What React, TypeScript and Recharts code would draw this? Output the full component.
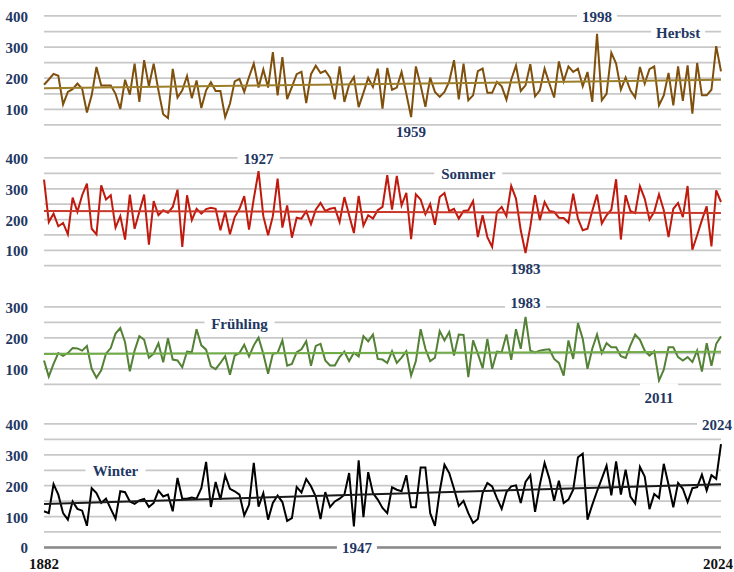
import React from "react";
import { LineChart, Line, XAxis, YAxis, CartesianGrid, ReferenceLine, ReferenceDot } from "recharts";

const years = Array.from({ length: 143 }, (_, i) => 1882 + i);

const herbstValues = [
  179, 196, 214, 208, 116, 156, 165, 183, 166, 90, 145, 236, 177, 177, 177, 150, 101, 195, 147, 247,
  124, 258, 174, 247, 161, 84, 72, 230, 138, 161, 207, 136, 193, 104, 161, 187, 159, 159, 75, 118,
  190, 198, 156, 204, 247, 170, 228, 170, 284, 145, 268, 133, 172, 213, 221, 120, 213, 240, 217, 224,
  202, 132, 238, 124, 179, 204, 107, 153, 201, 172, 231, 102, 233, 163, 170, 220, 150, 75, 238, 177,
  108, 202, 156, 140, 156, 190, 258, 132, 247, 129, 145, 223, 231, 153, 153, 188, 174, 131, 195, 241,
  159, 177, 245, 142, 161, 231, 183, 138, 254, 190, 238, 220, 231, 174, 220, 124, 343, 129, 150, 282,
  247, 163, 202, 161, 138, 236, 183, 229, 238, 113, 145, 217, 113, 238, 127, 241, 86, 249, 145, 145,
  163, 303, 222,
];

const sommerValues = [
  330, 192, 219, 178, 189, 152, 271, 225, 279, 317, 170, 152, 311, 265, 279, 174, 211, 135, 281, 170,
  225, 281, 118, 260, 214, 230, 222, 241, 297, 111, 279, 198, 235, 219, 234, 238, 235, 165, 225, 152,
  208, 235, 276, 167, 268, 357, 211, 149, 211, 333, 174, 246, 141, 206, 203, 227, 185, 232, 254, 228,
  235, 238, 192, 273, 214, 156, 277, 180, 214, 203, 230, 241, 344, 232, 342, 246, 287, 136, 282, 265,
  217, 250, 183, 273, 286, 227, 235, 203, 228, 230, 260, 143, 214, 143, 111, 225, 241, 211, 309, 268,
  165, 91, 176, 279, 198, 257, 228, 225, 206, 205, 190, 284, 203, 165, 170, 228, 281, 187, 214, 232,
  331, 135, 279, 228, 221, 308, 268, 200, 225, 282, 230, 143, 235, 254, 208, 309, 102, 149, 198, 243,
  113, 295, 257,
];

const fruehlingValues = [
  127, 75, 116, 151, 142, 151, 167, 166, 159, 174, 100, 71, 95, 149, 167, 214, 232, 186, 92, 159,
  206, 194, 136, 149, 183, 121, 199, 130, 127, 105, 156, 154, 228, 176, 162, 108, 99, 119, 141, 81,
  143, 151, 178, 140, 176, 201, 149, 84, 149, 152, 192, 110, 116, 154, 163, 189, 110, 174, 181, 127,
  111, 111, 138, 156, 125, 152, 140, 206, 189, 211, 132, 130, 119, 157, 119, 136, 157, 78, 125, 228,
  165, 125, 136, 222, 192, 219, 143, 211, 210, 73, 192, 149, 102, 197, 100, 156, 154, 211, 129, 228,
  165, 268, 159, 153, 159, 162, 163, 132, 119, 78, 192, 132, 248, 197, 100, 165, 211, 151, 183, 170,
  170, 141, 135, 176, 211, 194, 159, 143, 157, 62, 97, 170, 170, 138, 127, 138, 122, 159, 91, 183,
  110, 181, 205,
];

const winterValues = [
  117, 111, 205, 171, 111, 90, 149, 125, 119, 70, 192, 176, 144, 158, 125, 93, 182, 179, 149, 141,
  152, 157, 131, 144, 184, 165, 171, 117, 225, 158, 158, 162, 158, 192, 277, 131, 212, 155, 234, 190,
  182, 171, 104, 138, 274, 132, 176, 90, 144, 168, 147, 86, 95, 196, 178, 222, 198, 165, 92, 179,
  131, 149, 158, 171, 241, 68, 282, 98, 244, 176, 155, 128, 111, 195, 187, 182, 234, 130, 130, 259,
  259, 111, 70, 182, 268, 241, 190, 134, 151, 111, 79, 92, 176, 209, 198, 160, 125, 179, 198, 201,
  144, 212, 234, 115, 203, 274, 223, 151, 216, 144, 155, 187, 292, 304, 90, 138, 182, 223, 265, 169,
  279, 171, 252, 165, 142, 261, 230, 124, 173, 160, 271, 203, 130, 209, 190, 147, 192, 195, 236, 184,
  234, 222, 335,
];

// trend line end values (1882, 2024)
const herbstTrend = [168, 195];
const sommerTrend = [228, 221];
const fruehlingTrend = [148, 155];
const winterTrend = [141, 205];

const xTicks = [1882, 2024];

const herbstNotes = [
  { text: "1998", x: 1998, y: 400, boxW: 40 },
  { text: "Herbst", x: 2015, y: 350, boxW: 54 },
  { text: "1959", x: 1959, y: 29, boxW: 0 },
];
const sommerNotes = [
  { text: "1927", x: 1927, y: 400, boxW: 42 },
  { text: "Sommer", x: 1971, y: 350, boxW: 68 },
  { text: "1983", x: 1983, y: 41, boxW: 0 },
];
const fruehlingNotes = [
  { text: "1983", x: 1983, y: 316, boxW: 41, boxH: 20 },
  { text: "Frühling", x: 1923, y: 248, boxW: 70 },
  { text: "2011", x: 2011, y: 8, boxW: 38, boxH: 28 },
];
const winterNotes = [
  { text: "Winter", x: 1897, y: 250, boxW: 60 },
  { text: "1947", x: 1947, y: 0, boxW: 40, dx: 3 },
  { text: "2024", x: 2024, y: 400, boxW: 40, dx: -4 },
];

const NAVY = "#1f3864";
const FONT = '"Liberation Serif", "Times New Roman", serif';
const PAD = 24;
const X_AXIS_H = 30;

interface Note {
  text: string;
  x: number;
  y: number;
  boxW: number;
  boxH?: number;
  dx?: number;
}

function NoteLabel(props: any) {
  const { viewBox, note } = props;
  if (!viewBox) return null;
  const n: Note = note;
  const cx = viewBox.x + (viewBox.width ?? 0) / 2 + (n.dx ?? 0);
  const cy = viewBox.y + (viewBox.height ?? 0) / 2;
  const h = n.boxH ?? 18;
  return (
    <g>
      {n.boxW > 0 && <rect x={cx - n.boxW / 2} y={cy - h / 2} width={n.boxW} height={h} fill="#ffffff" />}
      <text
        x={cx}
        y={cy + 1}
        textAnchor="middle"
        dominantBaseline="central"
        fontFamily={FONT}
        fontWeight="bold"
        fontSize={15}
        fill={NAVY}
      >
        {n.text}
      </text>
    </g>
  );
}

function makeYTick(labels: number[]) {
  return (props: any) => {
    const { y, payload } = props;
    if (!labels.includes(payload.value)) return <g />;
    return (
      <text
        x={28}
        y={y + 1}
        textAnchor="end"
        dominantBaseline="central"
        fontFamily={FONT}
        fontWeight="bold"
        fontSize={15}
        fill={NAVY}
      >
        {payload.value}
      </text>
    );
  };
}

function XTick(props: any) {
  const { x, y, payload } = props;
  // last year label sits flush against the right edge
  const isLast = payload.value === xTicks[xTicks.length - 1];
  return (
    <text
      x={isLast ? x + 12 : x}
      y={y + 17}
      textAnchor={isLast ? "end" : "middle"}
      dominantBaseline="central"
      fontFamily={FONT}
      fontWeight="bold"
      fontSize={15}
      fill="#111111"
    >
      {payload.value}
    </text>
  );
}

interface PanelProps {
  values: number[];
  trend: number[];
  color: string;
  trendColor: string;
  domain: [number, number];
  gridTicks: number[];
  labelTicks: number[];
  plotTop: number;
  plotHeight: number;
  notes: Note[];
  showXAxis?: boolean;
}

function SeasonPanel({
  values,
  trend,
  color,
  trendColor,
  domain,
  gridTicks,
  labelTicks,
  plotTop,
  plotHeight,
  notes,
  showXAxis,
}: PanelProps) {
  const data = years.map((year, i) => ({ year, value: values[i] }));
  const height = PAD + plotHeight + (showXAxis ? X_AXIS_H : PAD);
  return (
    <div style={{ position: "absolute", left: 0, top: plotTop - PAD }}>
      <LineChart
        width={734}
        height={height}
        data={data}
        margin={{ top: PAD, right: 13, bottom: showXAxis ? 0 : PAD, left: 0 }}
      >
        <CartesianGrid vertical={false} stroke="#c8c8c8" strokeWidth={1.75} />
        <XAxis
          dataKey="year"
          type="number"
          domain={[1882, 2024]}
          ticks={xTicks}
          interval={0}
          hide={!showXAxis}
          height={X_AXIS_H}
          tickSize={0}
          tickMargin={0}
          tickLine={false}
          axisLine={{ stroke: "#8a8a8a", strokeWidth: 2.5 }}
          tick={<XTick />}
        />
        <YAxis
          type="number"
          domain={domain}
          ticks={gridTicks}
          interval={0}
          width={44}
          axisLine={false}
          tickLine={false}
          allowDataOverflow
          tick={makeYTick(labelTicks)}
        />
        <Line
          type="linear"
          dataKey="value"
          stroke={color}
          strokeWidth={2}
          dot={false}
          activeDot={false}
          isAnimationActive={false}
        />
        <ReferenceLine
          segment={[
            { x: 1882, y: trend[0] },
            { x: 2024, y: trend[1] },
          ]}
          stroke={trendColor}
          strokeWidth={2}
          ifOverflow="visible"
        />
        {notes.map((n) => (
          <ReferenceDot
            key={n.text + n.x}
            x={n.x}
            y={n.y}
            r={0}
            fill="none"
            stroke="none"
            ifOverflow="visible"
            label={(p: any) => <NoteLabel {...p} note={n} />}
          />
        ))}
      </LineChart>
    </div>
  );
}

export default function App() {
  return (
    <div style={{ position: "absolute", left: 0, top: 0, width: 734, height: 572, background: "#ffffff" }}>
      <SeasonPanel
        values={herbstValues}
        trend={herbstTrend}
        color="#7f4f0c"
        trendColor="#9c7e2a"
        domain={[50, 400]}
        gridTicks={[100, 150, 200, 250, 300, 350, 400]}
        labelTicks={[100, 200, 300, 400]}
        plotTop={15.7}
        plotHeight={108.9}
        notes={herbstNotes}
      />
      <SeasonPanel
        values={sommerValues}
        trend={sommerTrend}
        color="#c0190d"
        trendColor="#c8392a"
        domain={[50, 400]}
        gridTicks={[100, 150, 200, 250, 300, 350, 400]}
        labelTicks={[100, 200, 300, 400]}
        plotTop={157.7}
        plotHeight={107.7}
        notes={sommerNotes}
      />
      <SeasonPanel
        values={fruehlingValues}
        trend={fruehlingTrend}
        color="#538135"
        trendColor="#70ad47"
        domain={[50, 300]}
        gridTicks={[50, 100, 150, 200, 250, 300]}
        labelTicks={[100, 200, 300]}
        plotTop={306.7}
        plotHeight={77.3}
        notes={fruehlingNotes}
      />
      <SeasonPanel
        values={winterValues}
        trend={winterTrend}
        color="#000000"
        trendColor="#1a1a1a"
        domain={[0, 400]}
        gridTicks={[0, 50, 100, 150, 200, 250, 300, 350, 400]}
        labelTicks={[0, 100, 200, 300, 400]}
        plotTop={424.3}
        plotHeight={123.4}
        notes={winterNotes}
        showXAxis
      />
    </div>
  );
}
